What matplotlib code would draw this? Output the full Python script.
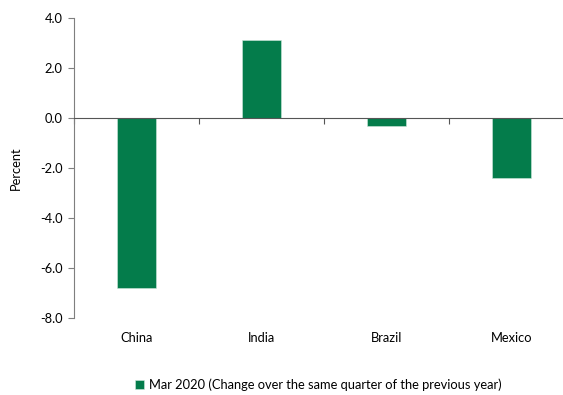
import numpy as np
import matplotlib.pyplot as plt
from matplotlib.transforms import blended_transform_factory

countries = ["China", "India", "Brazil", "Mexico"]
change_pct = [-6.8, 3.1, -0.3, -2.4]
y_ticks = [4.0, 2.0, 0.0, -2.0, -4.0, -6.0, -8.0]
series_label = "Mar 2020 (Change over the same quarter of the previous year)"

GREEN = "#047c4b"
FS = 9.3
plt.rcParams['font.family'] = ['Lato', 'DejaVu Sans']

fig = plt.figure(figsize=(5.63, 3.95), dpi=100)
# axes run a little past the right edge of the figure
ax = fig.add_axes([74 / 563, 77 / 395, 500 / 563, 300 / 395])

x = np.arange(len(countries))
ax.bar(x, change_pct, width=0.31, color=GREEN, edgecolor="#cfe8dc",
       linewidth=0.4, label=series_label, zorder=2)

ax.set_xlim(-0.5, len(countries) - 0.5)
ax.set_ylim(-8, 4)
ax.set_yticks(y_ticks)
ax.set_yticklabels([f"{v:.1f}" for v in y_ticks], fontsize=FS)
ax.set_ylabel("Percent", fontsize=FS)
ax.yaxis.set_label_coords(-0.104, 0.5)

for side in ("top", "right"):
    ax.spines[side].set_visible(False)
ax.spines["left"].set_color("#7f7f7f")
ax.spines["bottom"].set_position(("data", 0))
ax.spines["bottom"].set_color("#555555")
ax.spines["bottom"].set_zorder(3)
ax.tick_params(axis="y", length=4, color="#7f7f7f", pad=4)

# category boundaries get small ticks on the zero line, names sit below the plot
ax.set_xticks(np.arange(len(countries) + 1) - 0.5)
ax.set_xticklabels([])
ax.tick_params(axis="x", length=4, color="#555555")
trans = blended_transform_factory(ax.transData, ax.transAxes)
for xi, name in zip(x, countries):
    ax.text(xi, -0.065, name, transform=trans, ha="center", va="center",
            fontsize=FS)

fig.legend(loc="center", bbox_to_anchor=(318 / 563, 1 - 385 / 395),
           frameon=False, fontsize=FS, handlelength=0.75, handleheight=0.75,
           handletextpad=0.35)

fig.savefig("out.png", dpi=100)
